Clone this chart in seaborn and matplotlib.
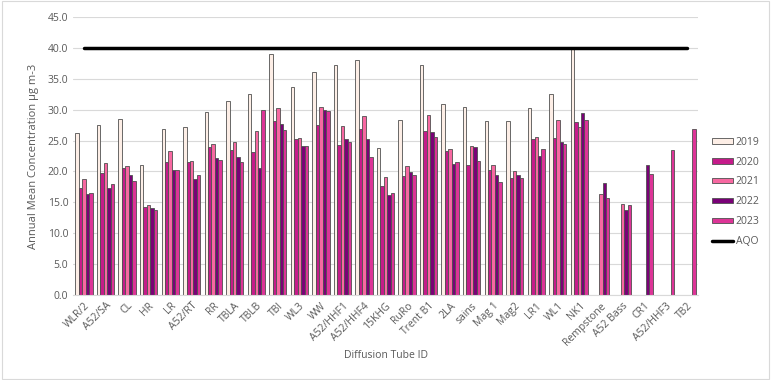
import numpy as np
import pandas as pd
import seaborn as sns
import matplotlib.pyplot as plt
from matplotlib.ticker import FormatStrFormatter
from matplotlib.patches import Rectangle

nan = np.nan

# Diffusion tube sites and annual means (ug m-3)
sites = ["WLR/2", "A52/SA", "CL", "HR", "LR", "A52/RT", "RR", "TBLA", "TBLB", "TBI",
         "WL3", "WW", "A52/HHF1", "A52/HHF4", "15KHG", "RuRo", "Trent B1", "2LA",
         "sains", "Mag 1", "Mag2", "LR1", "WL1", "NK1", "Rempstone", "A52 Bass",
         "CR1", "A52/HHF3", "TB2"]
years = ["2019", "2020", "2021", "2022", "2023"]

y2019 = [26.2, 27.5, 28.5, 21.0, 26.9, 27.2, 29.7, 31.4, 32.5, 39.1,
         33.7, 36.1, 37.3, 38.0, 23.8, 28.3, 37.2, 30.9,
         30.4, 28.2, 28.2, 30.2, 32.5, 40.2, nan, nan, nan, nan, nan]
y2020 = [17.3, 19.7, 20.5, 14.2, 21.5, 21.5, 23.9, 23.4, 23.2, 28.1,
         25.3, 27.5, 24.3, 26.8, 17.7, 19.3, 26.5, 23.3,
         21.1, 20.3, 19.0, 25.2, 25.4, 28.0, nan, nan, nan, nan, nan]
y2021 = [18.8, 21.3, 20.8, 14.5, 23.3, 21.7, 24.5, 24.8, 26.5, 30.2,
         25.4, 30.5, 27.3, 29.0, 19.1, 20.8, 29.1, 23.6,
         24.1, 21.0, 20.1, 25.6, 28.3, 27.2, 16.4, 14.7, nan, nan, nan]
y2022 = [16.3, 17.3, 19.4, 14.0, 20.2, 18.7, 22.1, 22.3, 20.6, 27.7,
         24.1, 29.9, 25.3, 25.3, 16.1, 19.9, 26.4, 21.2,
         23.9, 19.4, 19.4, 22.5, 24.8, 29.4, 18.1, 13.8, 21.1, nan, nan]
y2023 = [16.5, 17.9, 18.5, 13.7, 20.3, 19.4, 21.9, 21.6, 29.9, 26.7,
         24.1, 29.8, 24.7, 22.3, 16.5, 19.4, 25.5, 21.5,
         21.7, 18.3, 19.0, 23.6, 24.5, 28.3, 15.7, 14.5, 19.6, 23.4, 26.8]
aqo = 40.0

colors = ["#FDEEE6", "#C51B8A", "#F768A1", "#7A0177", "#DD3497"]

# long-form table for seaborn
rows = []
for yr, vals in zip(years, [y2019, y2020, y2021, y2022, y2023]):
    for s, v in zip(sites, vals):
        rows.append((s, yr, v))
df = pd.DataFrame(rows, columns=["site", "year", "value"]).dropna()

sns.set_style("white")
plt.rcParams["font.family"] = ["Open Sans", "DejaVu Sans"]
txt = "#595959"

fig, ax = plt.subplots(figsize=(7.71, 3.80), dpi=100)
fig.subplots_adjust(left=0.095, right=0.905, top=0.955, bottom=0.224)

sns.barplot(data=df, x="site", y="value", hue="year", order=sites, hue_order=years,
            palette=colors, width=0.8, edgecolor="#505050", linewidth=0.6,
            saturation=1, ax=ax, zorder=2)
sns.lineplot(x=sites, y=[aqo] * len(sites), color="black", linewidth=2.5,
             label="AQO", ax=ax, zorder=3, sort=False)

ax.set_ylim(0, 45)
ax.set_yticks(np.arange(0, 46, 5))
ax.yaxis.set_major_formatter(FormatStrFormatter("%.1f"))
ax.set_xlim(-0.5, len(sites) - 0.5)
ax.grid(axis="y", color="#D9D9D9", linewidth=0.8, zorder=0)
ax.set_axisbelow(True)
for sp in ["top", "right", "left"]:
    ax.spines[sp].set_visible(False)
ax.spines["bottom"].set_color("#D9D9D9")
ax.tick_params(axis="both", length=0, colors=txt, labelsize=7.5)
plt.setp(ax.get_xticklabels(), rotation=45, ha="right", rotation_mode="anchor")
ax.tick_params(axis="x", pad=4)
ax.set_xlabel("Diffusion Tube ID", color=txt, fontsize=7.5, labelpad=2)
ax.set_ylabel("Annual Mean Concentration µg m-3", color=txt, fontsize=8, labelpad=6)

handles, labels = ax.get_legend_handles_labels()
if ax.legend_:
    ax.legend_.remove()
fig.legend(handles, labels, loc="upper left", bbox_to_anchor=(0.911, 0.665),
           frameon=False, fontsize=7.5, handlelength=2.0, handleheight=0.45,
           labelspacing=0.85, handletextpad=0.3, labelcolor=txt)

fig.patches.append(Rectangle((0.002, 0.003), 0.995, 0.994, transform=fig.transFigure,
                             fill=False, edgecolor="#D9D9D9", linewidth=0.8))

fig.savefig("out.png", dpi=100)
